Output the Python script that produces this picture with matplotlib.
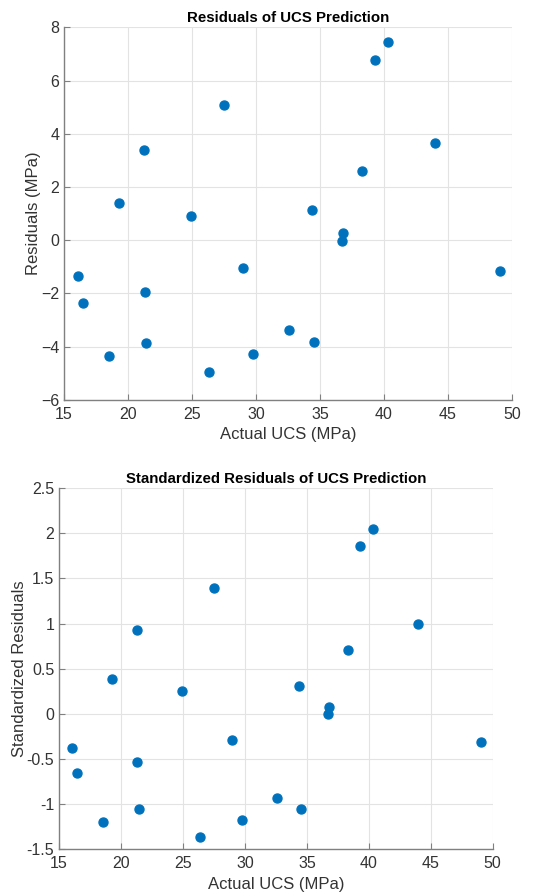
import numpy as np
import matplotlib
matplotlib.use("Agg")
from matplotlib import pyplot as plt

plt.rcParams['font.family'] = ['Liberation Sans', 'DejaVu Sans']

# actual UCS (MPa)
actual_ucs = [16.07, 16.49, 18.52, 19.27, 21.28, 21.33, 21.44, 24.93, 26.34, 27.48, 28.99,
              29.80, 32.57, 34.39, 34.55, 36.68, 36.81, 38.30, 39.26, 40.31, 43.95, 49.04]
# residuals (MPa)
residuals = [-1.35, -2.36, -4.36, 1.40, 3.39, -1.96, -3.85, 0.925, -4.96, 5.07, -1.05,
             -4.26, -3.37, 1.14, -3.83, -0.01, 0.29, 2.59, 6.77, 7.46, 3.64, -1.14]
# standardized residuals
std_residuals = [-0.376, -0.653, -1.204, 0.382, 0.929, -0.539, -1.06, 0.249, -1.363, 1.391, -0.295,
                 -1.175, -0.931, 0.308, -1.056, -0.006, 0.071, 0.707, 1.857, 2.045, 0.999, -0.313]

blue = '#0072BD'
gray = '#808080'
txt = '#333333'

def style_axes(ax):
    ax.grid(True, color='#e3e3e3', linewidth=0.8)
    ax.set_axisbelow(True)
    for s in ['top', 'right']:
        ax.spines[s].set_visible(False)
    for s in ['left', 'bottom']:
        ax.spines[s].set_color(gray)
        ax.spines[s].set_linewidth(1.0)
    ax.tick_params(direction='in', length=4, width=0.8, color=gray, labelcolor=txt, labelsize=11.5)
    ax.tick_params(axis='x', pad=5)

fig = plt.figure(figsize=(5.5, 8.92), dpi=100)

ax1 = fig.add_axes([0.1164, 0.5516, 0.8145, 0.4178])
ax1.scatter(actual_ucs, residuals, s=42, color=blue, zorder=3)
ax1.set_xlim(15, 50)
ax1.set_ylim(-6, 8)
ax1.set_xticks(np.arange(15, 51, 5))
ax1.set_yticks(np.arange(-6, 9, 2))
style_axes(ax1)
ax1.set_xlabel('Actual UCS (MPa)', fontsize=12, color=txt, labelpad=4)
ax1.set_ylabel('Residuals (MPa)', fontsize=12, color=txt, labelpad=0)
ax1.set_title('Residuals of UCS Prediction', fontsize=10.8, fontweight='bold', color='black', pad=4)

ax2 = fig.add_axes([0.1073, 0.0482, 0.7885, 0.4044])
ax2.scatter(actual_ucs, std_residuals, s=42, color=blue, zorder=3)
ax2.set_xlim(15, 50)
ax2.set_ylim(-1.5, 2.5)
ax2.set_xticks(np.arange(15, 51, 5))
ax2.set_yticks(np.arange(-1.5, 2.6, 0.5))
ax2.set_yticklabels(['-1.5', '-1', '-0.5', '0', '0.5', '1', '1.5', '2', '2.5'])
style_axes(ax2)
ax2.set_xlabel('Actual UCS (MPa)', fontsize=12, color=txt, labelpad=4)
ax2.set_ylabel('Standardized Residuals', fontsize=12, color=txt, labelpad=0)
ax2.set_title('Standardized Residuals of UCS Prediction', fontsize=10.8, fontweight='bold', color='black', pad=4)

fig.savefig('out.png', dpi=100)
